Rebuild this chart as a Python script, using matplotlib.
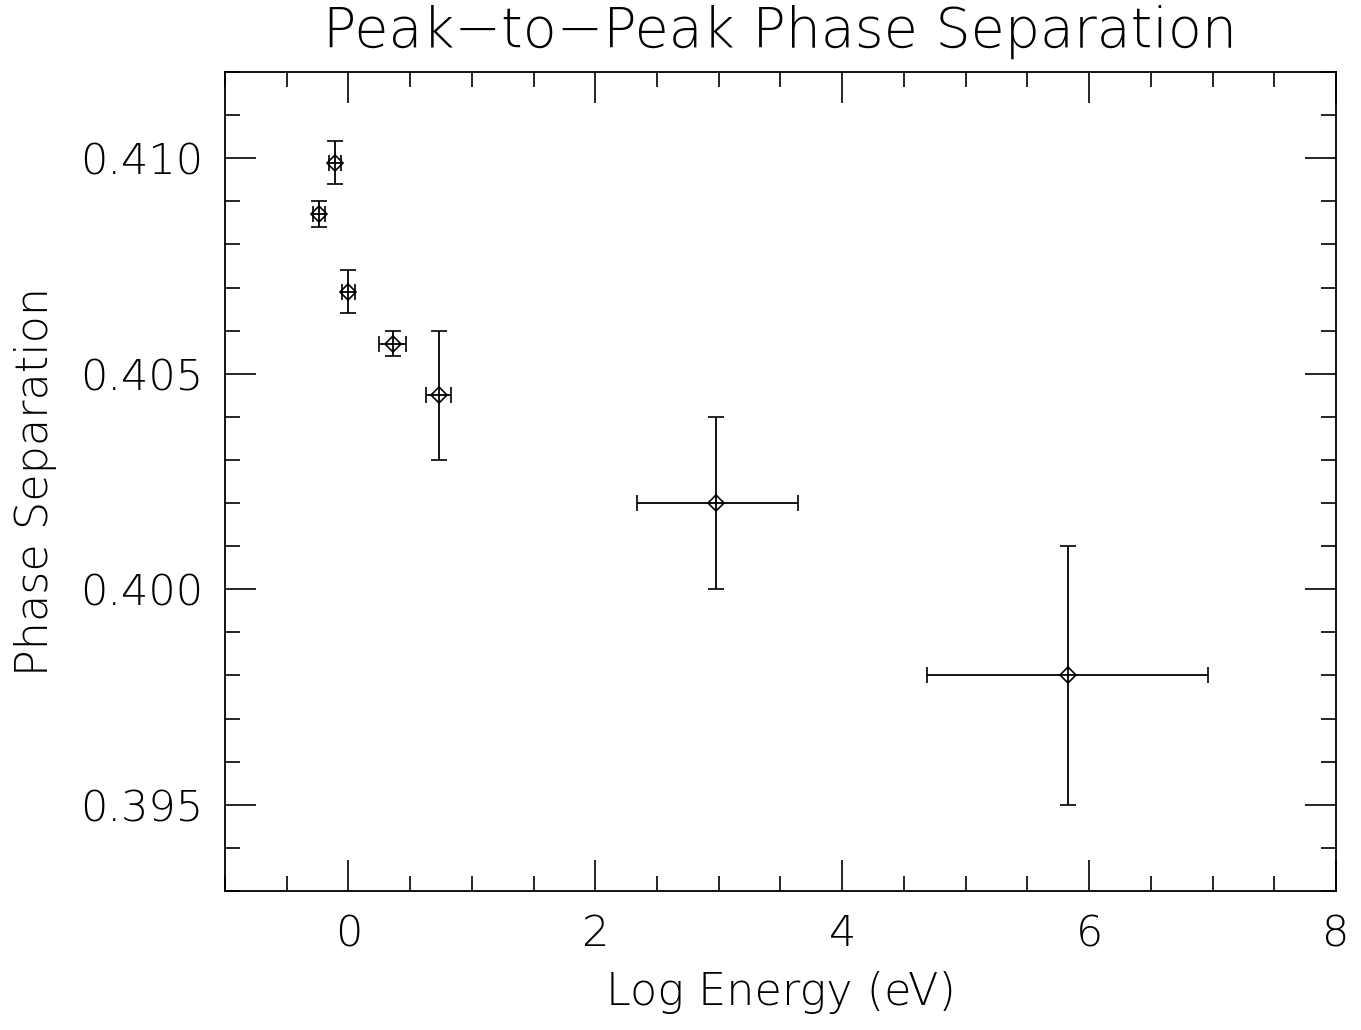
import matplotlib
matplotlib.use("Agg")
import matplotlib.pyplot as plt
from matplotlib.ticker import MultipleLocator, FormatStrFormatter

log_energy = [-0.24, -0.11, 0.0, 0.36, 0.73, 2.98, 5.83]
phase_sep = [0.4087, 0.4099, 0.4069, 0.4057, 0.4045, 0.4020, 0.3980]
x_err_lo = [0.05, 0.05, 0.05, 0.11, 0.10, 0.64, 1.14]
x_err_hi = [0.05, 0.05, 0.05, 0.11, 0.10, 0.66, 1.13]
y_err_lo = [0.0003, 0.0005, 0.0005, 0.0003, 0.0015, 0.0020, 0.0030]
y_err_hi = [0.0003, 0.0005, 0.0005, 0.0003, 0.0015, 0.0020, 0.0030]

fig = plt.figure(figsize=(13.61, 10.30), dpi=100)
ax = fig.add_axes([0.1653, 0.1350, 0.8163, 0.7951])

ax.errorbar(log_energy, phase_sep,
            xerr=[x_err_lo, x_err_hi], yerr=[y_err_lo, y_err_hi],
            fmt='D', ms=8, mfc='none', mec='black', mew=1.2,
            ecolor='black', elinewidth=1.3, capsize=6, capthick=1.3)

ax.set_xlim(-1, 8)
ax.set_ylim(0.393, 0.412)
ax.xaxis.set_major_locator(MultipleLocator(2))
ax.xaxis.set_minor_locator(MultipleLocator(0.5))
ax.yaxis.set_major_locator(MultipleLocator(0.005))
ax.yaxis.set_minor_locator(MultipleLocator(0.001))
ax.yaxis.set_major_formatter(FormatStrFormatter('%.3f'))
ax.tick_params(which='both', direction='in', top=True, right=True, width=1.2)
ax.tick_params(which='major', length=22, labelsize=31, pad=16)
ax.tick_params(which='minor', length=11)
for s in ax.spines.values():
    s.set_linewidth(1.3)
for lab in ax.get_xticklabels() + ax.get_yticklabels():
    lab.set_fontweight('light')

ax.set_xlabel('Log Energy (eV)', fontsize=32, fontweight='light', labelpad=12)
ax.set_ylabel('Phase Separation', fontsize=32, fontweight='light', labelpad=16)
ax.set_title('Peak\u2212to\u2212Peak Phase Separation', fontsize=40, fontweight='light', pad=18)

fig.savefig('out.png', dpi=100)
